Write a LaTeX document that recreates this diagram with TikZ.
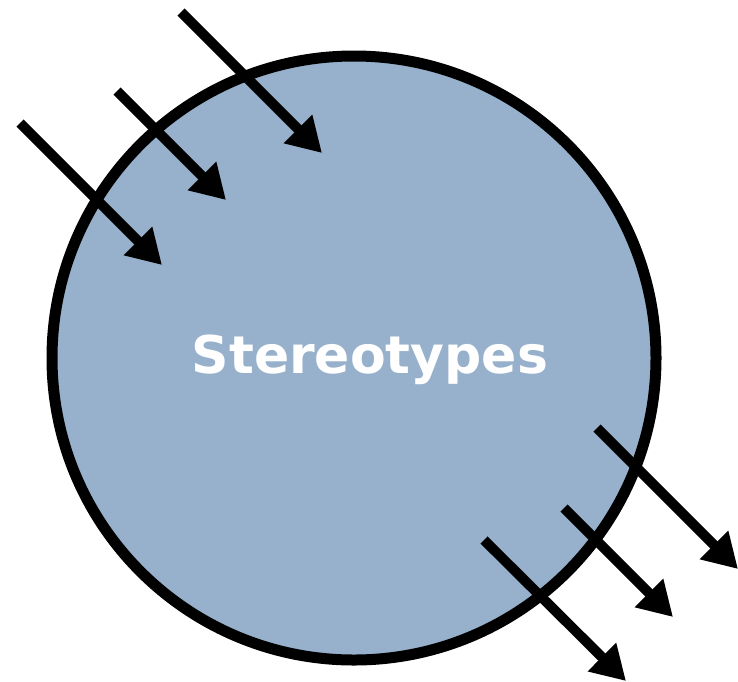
\documentclass[tikz,border=0pt]{standalone}
\usepackage{fontspec}
\setmainfont{DejaVu Sans}
\usetikzlibrary{arrows.meta}
\definecolor{circfill}{HTML}{97B1CC}
\tikzset{
  flow/.style={line width=10pt,-{Triangle[length=34pt,width=38pt]}},
}
\begin{document}
\begin{tikzpicture}[x=1pt,y=-1pt]
\useasboundingbox (0,0) rectangle (738,681);
\node[circle,draw=black,line width=11pt,fill=circfill,minimum size=604pt,inner sep=0pt] (c) at (354,358) {};
\node[text=white,font=\bfseries\fontsize{52}{60}\selectfont] (t) at (370,360) {Stereotypes};
\coordinate (a1s) at (181,12); \coordinate (a1e) at (322,153);
\coordinate (a2s) at (117,91); \coordinate (a2e) at (226,200);
\coordinate (a3s) at (20,123); \coordinate (a3e) at (162,265);
\coordinate (b1s) at (597,428); \coordinate (b1e) at (738,569);
\coordinate (b2s) at (564,508); \coordinate (b2e) at (673,617);
\coordinate (b3s) at (484,540); \coordinate (b3e) at (626,681);
\draw[flow] (a1s) -- (a1e);
\draw[flow] (a2s) -- (a2e);
\draw[flow] (a3s) -- (a3e);
\draw[flow] (b1s) -- (b1e);
\draw[flow] (b2s) -- (b2e);
\draw[flow] (b3s) -- (b3e);
\end{tikzpicture}
\end{document}
